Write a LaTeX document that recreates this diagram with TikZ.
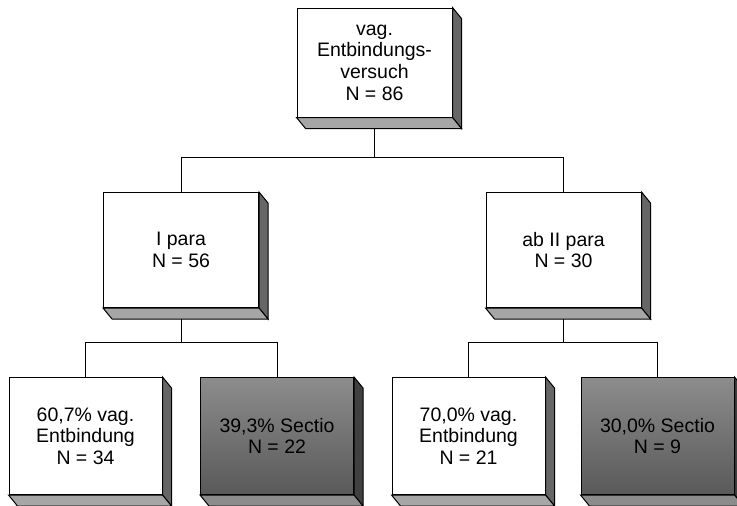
\documentclass[tikz,border=0pt]{standalone}
\usepackage{fontspec}
\setmainfont{Liberation Sans}
\usetikzlibrary{calc}

\begin{document}
\begin{tikzpicture}[x=1pt, y=-1pt, font=\fontsize{19.5}{21.7}\selectfont, line width=1pt,
    box/.style={draw, fill=white, align=center, inner sep=0pt, minimum width=155pt, minimum height=115pt},
    darkbox/.style={box, top color=black!45, middle color=black!36, bottom color=black!65},
    lowbox/.style={minimum width=153pt, minimum height=117pt}]
    \useasboundingbox (0,0) rectangle (737,506);
    % boxes
    \node [box, minimum height=109pt] (top) at (374.5,62.5) {vag.\\Entbindungs-\\versuch\\N = 86};
    \node [box] (ipara) at (181,250) {I para\\N = 56};
    \node [box] (abpara) at (563.5,250) {ab II para\\N = 30};
    \node [box, lowbox] (vagI) at (85.5,436) {60,7\% vag.\\Entbindung\\N = 34};
    \node [darkbox, lowbox] (secI) at (277,436) {39,3\% Sectio\\N = 22};
    \node [box, lowbox] (vagII) at (468.5,436) {70,0\% vag.\\Entbindung\\N = 21};
    \node [darkbox, lowbox] (secII) at (657.5,436) {30,0\% Sectio\\N = 9};
    % side and bottom faces
    \foreach \n/\sc/\bc in {top/black!60/black!35, ipara/black!60/black!35, abpara/black!60/black!35,
        vagI/black!60/black!35, vagII/black!60/black!35, secI/black!75/black!45, secII/black!75/black!45} {
        \filldraw [fill=\sc] (\n.north east) -- ++(9,11) -- ($(\n.south east)+(9,11)$) -- (\n.south east) -- cycle;
        \filldraw [fill=\bc] (\n.south west) -- ++(9,11) -- ($(\n.south east)+(9,11)$) -- (\n.south east) -- cycle;
    }
    % connectors
    \draw ($(top.south)+(0,11)$) -- ++(0,29) coordinate (topbar);
    \draw (topbar) -| (ipara.north);
    \draw (topbar) -| (abpara.north);
    \draw ($(ipara.south)+(0,11)$) -- ++(0,23) coordinate (ibar);
    \draw (ibar) -| (vagI.north);
    \draw (ibar) -| (secI.north);
    \draw ($(abpara.south)+(0,11)$) -- ++(0,23) coordinate (abbar);
    \draw (abbar) -| (vagII.north);
    \draw (abbar) -| (secII.north);
\end{tikzpicture}
\end{document}
